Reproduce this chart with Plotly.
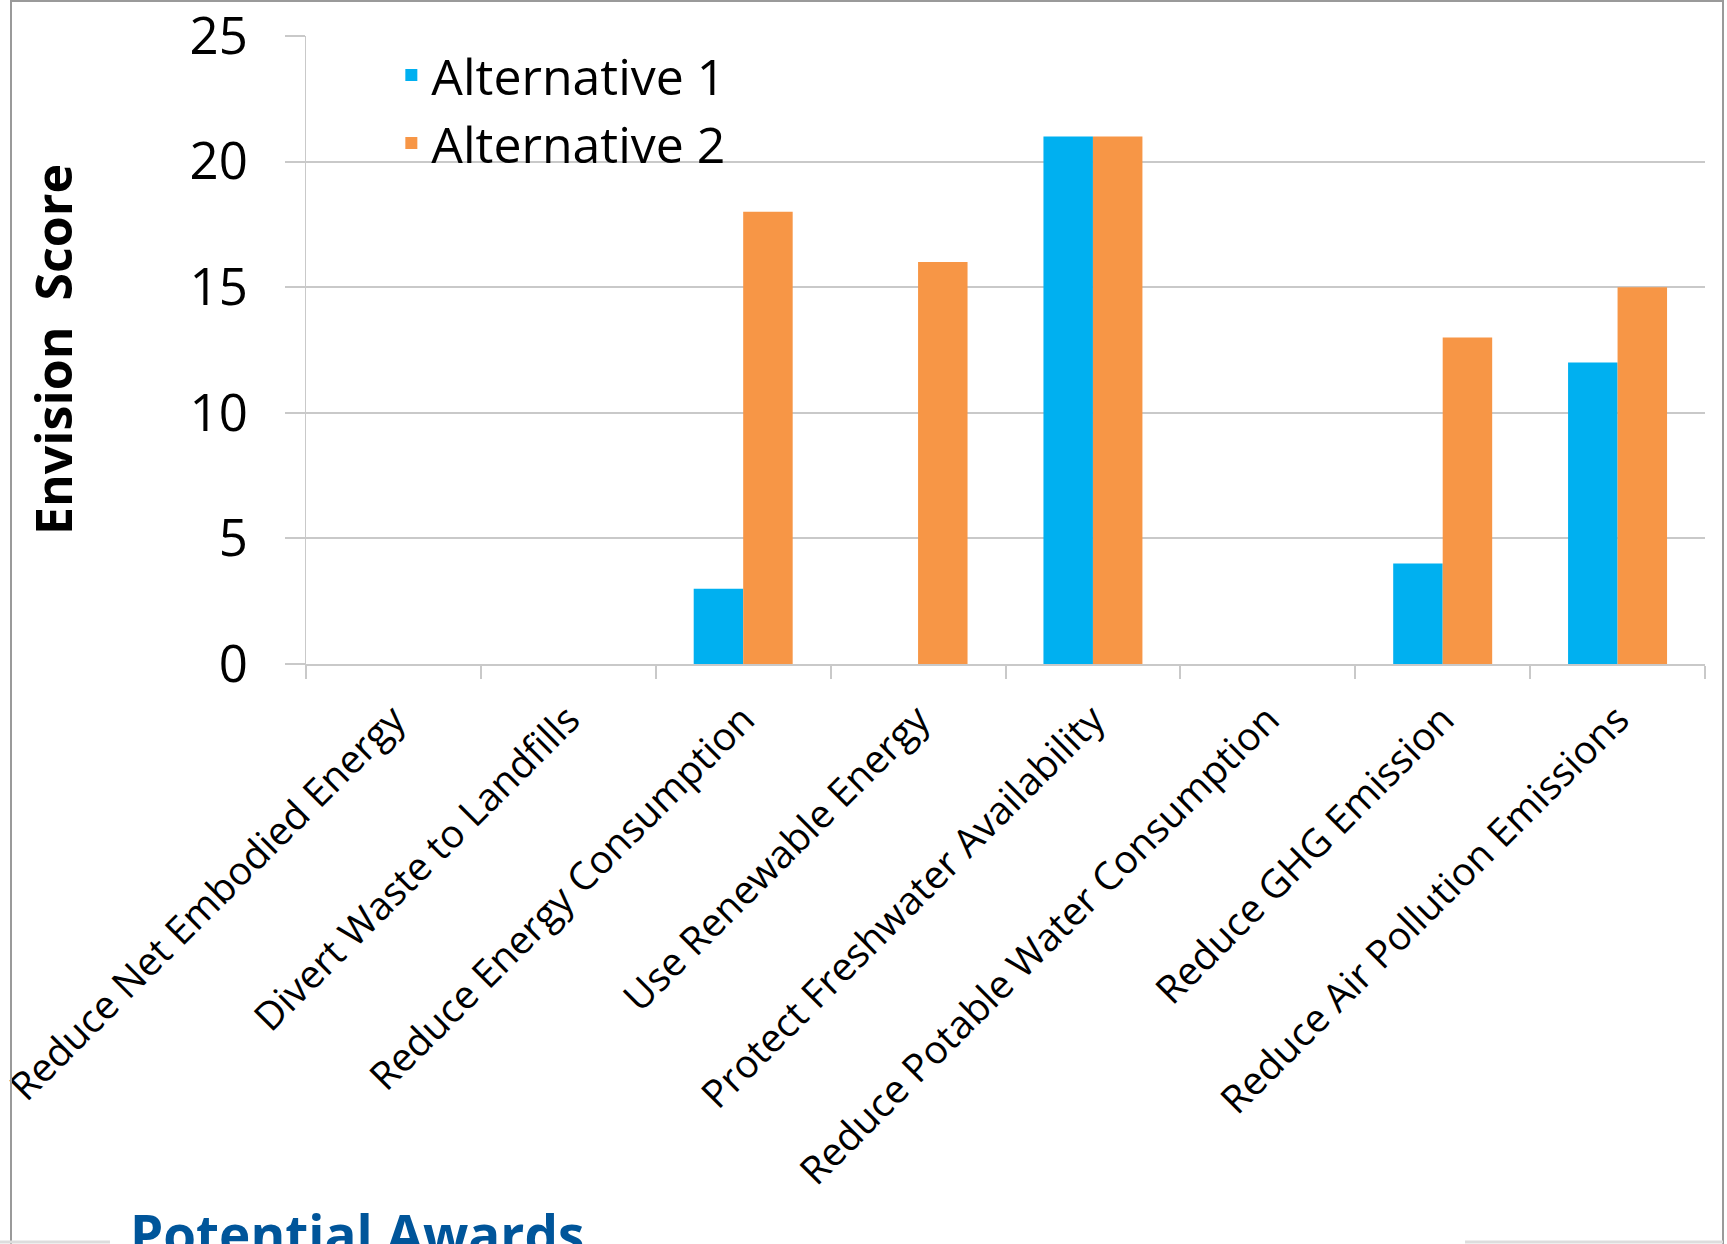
import plotly.graph_objects as go

categories = [
    "Reduce Net Embodied Energy",
    "Divert Waste to Landfills",
    "Reduce Energy Consumption",
    "Use Renewable Energy",
    "Protect Freshwater Availability",
    "Reduce Potable Water Consumption",
    "Reduce GHG Emission",
    "Reduce Air Pollution Emissions",
]
series_names = ["Alternative 1", "Alternative 2"]
alt1 = [0, 0, 3, 0, 21, 0, 4, 12]
alt2 = [0, 0, 18, 16, 21, 0, 13, 15]
y_ticks = [0, 5, 10, 15, 20, 25]
y_title = "Envision  Score"
footer_text = "Potential Awards"

BLUE = "#00B0F0"
ORANGE = "#F79646"
GRID = "#C9C9C9"
W, H = 1727, 1244
L, R, T, B = 306, 22, 36, 580

fig = go.Figure()
fig.add_trace(go.Bar(x=categories, y=alt1, name=series_names[0], marker=dict(color=BLUE, line=dict(width=0))))
fig.add_trace(go.Bar(x=categories, y=alt2, name=series_names[1], marker=dict(color=ORANGE, line=dict(width=0))))

fig.update_layout(
    width=W, height=H,
    margin=dict(l=L, r=R, t=T, b=B, autoexpand=False),
    paper_bgcolor="white", plot_bgcolor="white",
    barmode="group", bargap=0.434, bargroupgap=0,
    font=dict(family="Open Sans", color="black"),
    legend=dict(
        x=0.061, y=1.0, xanchor="left", yanchor="top",
        font=dict(family="Open Sans", size=50, color="black"),
        bgcolor="rgba(0,0,0,0)", itemwidth=30, tracegroupgap=0,
    ),
    xaxis=dict(
        type="category", tickson="boundaries", ticks="outside", ticklen=13,
        tickwidth=2, tickcolor=GRID, showline=True, linecolor=GRID, linewidth=2,
        showgrid=False, tickangle=-45, tickfont=dict(family="Open Sans", size=39, color="black"),
        ticklabelstandoff=15, ticklabeloverflow="allow",
    ),
    yaxis=dict(
        range=[0, 25], tickvals=y_ticks, ticks="outside", ticklen=20, tickwidth=2,
        tickcolor=GRID, showgrid=True, gridcolor=GRID, gridwidth=2,
        showline=True, linecolor=GRID, linewidth=1, zeroline=False,
        tickfont=dict(family="Open Sans", size=51, color="black"),
        ticklabelstandoff=27, ticklabeloverflow="allow",
    ),
    showlegend=True,
)

# y-axis title
fig.add_annotation(
    text=f"<b>{y_title}</b>", xref="paper", yref="paper",
    x=(53 - L) / (W - L - R), y=0.5, xanchor="center", yanchor="middle",
    textangle=-90, showarrow=False,
    font=dict(family="Open Sans", size=50, color="black"),
)

# footer text (partially cut off at the bottom)
fig.add_annotation(
    text=f"<b>{footer_text}</b>", xref="paper", yref="paper",
    x=(128 - L) / (W - L - R), y=(H - B - 1195) / (H - T - B), xanchor="left", yanchor="top",
    showarrow=False,
    font=dict(family="Open Sans", size=53, color="#00559A"),
)

# outer frame (slide border)
def px_x(v):
    return (v - L) / (W - L - R)

def px_y(v):
    return (H - B - v) / (H - T - B)

frame = dict(color="#9A9A9A", width=2)
fig.add_shape(type="line", xref="paper", yref="paper", x0=px_x(11), x1=px_x(11), y0=px_y(0), y1=px_y(H), line=frame)
fig.add_shape(type="line", xref="paper", yref="paper", x0=px_x(11), x1=px_x(1723), y0=px_y(1), y1=px_y(1), line=frame)
fig.add_shape(type="line", xref="paper", yref="paper", x0=px_x(1723), x1=px_x(1723), y0=px_y(0), y1=px_y(H), line=frame)
fig.add_shape(type="line", xref="paper", yref="paper", x0=px_x(0), x1=px_x(110), y0=px_y(1242), y1=px_y(1242), line=dict(color="#DDDDDD", width=3))
fig.add_shape(type="line", xref="paper", yref="paper", x0=px_x(1465), x1=px_x(1723), y0=px_y(1242), y1=px_y(1242), line=dict(color="#DDDDDD", width=3))

fig.write_html("out.html")
